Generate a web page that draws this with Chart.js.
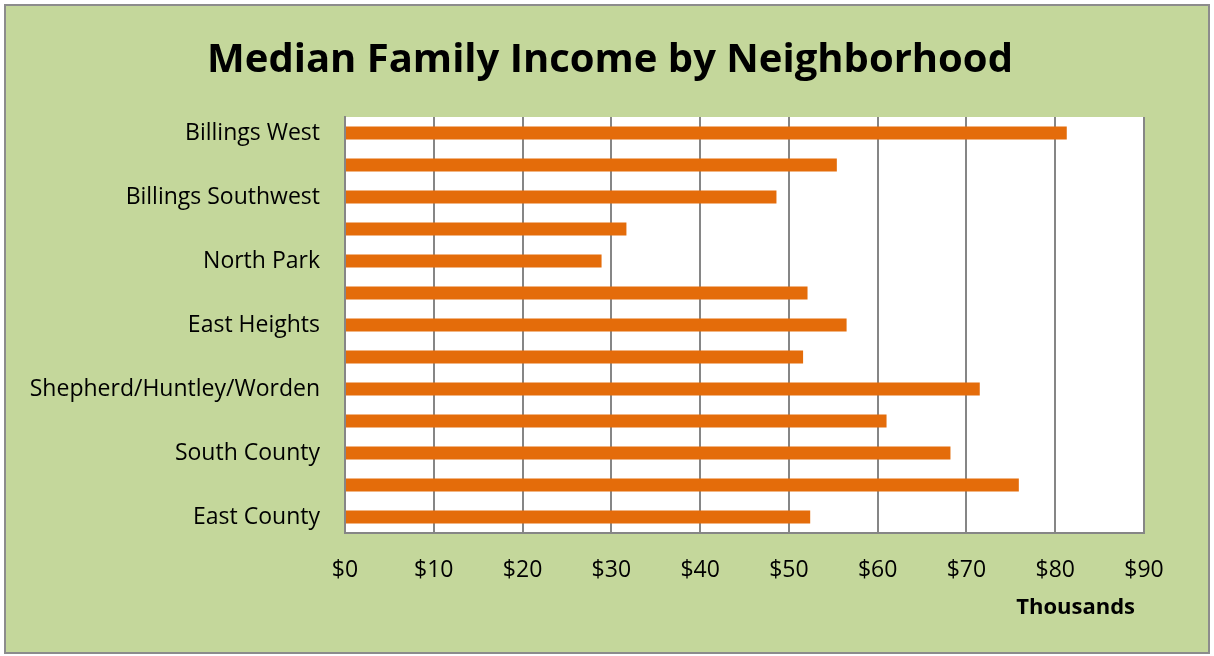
<!DOCTYPE html>
<html>
<head>
<meta charset="utf-8">
<script src="https://cdn.jsdelivr.net/npm/chart.js@4"></script>
<style>
  html, body { margin: 0; padding: 0; background: #ffffff; }
  #wrap { position: absolute; left: 0; top: 0; width: 1214px; height: 656px; }
</style>
</head>
<body>
<div id="wrap"><canvas id="incomeChart" width="1214" height="656"></canvas></div>
<script>
  // neighborhoods (every other label is hidden in the original chart)
  const neighborhoods = [
    "Billings West", "", "Billings Southwest", "", "North Park", "",
    "East Heights", "", "Shepherd/Huntley/Worden", "", "South County", "",
    "East County"
  ];
  // median family income, thousands of dollars
  const incomeValues = [81.3, 55.4, 48.6, 31.7, 28.9, 52.1, 56.5, 51.6, 71.5, 61.0, 68.2, 75.9, 52.4];
  const xTicks = [0, 10, 20, 30, 40, 50, 60, 70, 80, 90];
  const chartTitle = "Median Family Income by Neighborhood";
  const axisTitle = "Thousands";

  const FONT = "'Open Sans', 'DejaVu Sans', sans-serif";

  // green frame, white plot area, title and the "Thousands" label
  const framePlugin = {
    id: "frame",
    beforeDraw(chart) {
      const ctx = chart.ctx;
      const a = chart.chartArea;
      ctx.save();
      ctx.fillStyle = "#ffffff";
      ctx.fillRect(0, 0, chart.width, chart.height);
      ctx.fillStyle = "#c4d79b";
      ctx.fillRect(5, 5, chart.width - 10, chart.height - 8);
      ctx.strokeStyle = "#8c8c8c";
      ctx.lineWidth = 2;
      ctx.strokeRect(5, 5, chart.width - 10, chart.height - 8);
      ctx.fillStyle = "#ffffff";
      ctx.fillRect(a.left, a.top, a.right - a.left, a.bottom - a.top);
      ctx.restore();
    },
    afterDraw(chart) {
      const ctx = chart.ctx;
      const a = chart.chartArea;
      ctx.save();
      ctx.fillStyle = "#000000";
      ctx.textBaseline = "alphabetic";
      ctx.textAlign = "center";
      ctx.font = "bold 40px " + FONT;
      ctx.fillText(chartTitle, 610, 72);
      ctx.font = "bold 22px " + FONT;
      ctx.textAlign = "right";
      ctx.textBaseline = "middle";
      ctx.fillText(axisTitle, a.right - 9, 608);
      ctx.restore();
    }
  };

  new Chart(document.getElementById("incomeChart"), {
    type: "bar",
    data: {
      labels: neighborhoods,
      datasets: [{
        label: "Median Family Income",
        data: incomeValues,
        backgroundColor: "#e46c0a",
        borderWidth: 0,
        barPercentage: 0.82,
        categoryPercentage: 0.5
      }]
    },
    options: {
      indexAxis: "y",
      responsive: false,
      animation: false,
      layout: { padding: { left: 0, right: 70, top: 117, bottom: 0 } },
      plugins: {
        legend: { display: false },
        tooltip: { enabled: false },
        title: { display: false }
      },
      scales: {
        x: {
          type: "linear",
          min: 0,
          max: 90,
          afterBuildTicks(scale) {
            scale.ticks = xTicks.map(v => ({ value: v }));
          },
          afterFit(scale) { scale.height = 123; },
          grid: { color: "#868686", lineWidth: 2, drawTicks: false },
          border: { color: "#868686", width: 2 },
          ticks: {
            color: "#000000",
            padding: 24,
            font: { family: FONT, size: 23 },
            callback: v => "$" + v
          }
        },
        y: {
          afterFit(scale) { scale.width = 345; },
          grid: { display: false, drawTicks: false },
          border: { color: "#868686", width: 2 },
          ticks: {
            autoSkip: false,
            color: "#000000",
            padding: 25,
            font: { family: FONT, size: 23 }
          }
        }
      }
    },
    plugins: [framePlugin]
  });
</script>
</body>
</html>
